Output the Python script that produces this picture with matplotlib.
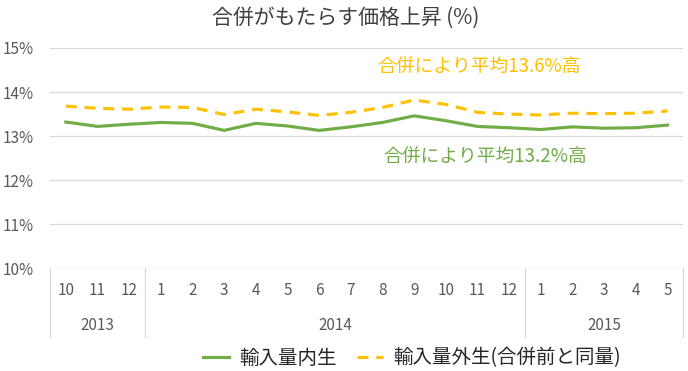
import matplotlib
matplotlib.use("Agg")
import matplotlib.pyplot as plt
import matplotlib.transforms as mtransforms

plt.rcParams['font.family'] = ['Noto Sans CJK JP', 'DejaVu Sans']

months = ['10', '11', '12', '1', '2', '3', '4', '5', '6', '7', '8', '9',
          '10', '11', '12', '1', '2', '3', '4', '5']
years = ['2013', '2014', '2015']
year_spans = [(0, 2), (3, 14), (15, 19)]

endog = [13.32, 13.22, 13.27, 13.31, 13.29, 13.13, 13.29, 13.23, 13.13, 13.21,
         13.31, 13.46, 13.35, 13.22, 13.19, 13.15, 13.21, 13.18, 13.19, 13.25]
exog = [13.68, 13.63, 13.61, 13.66, 13.65, 13.49, 13.61, 13.55, 13.47, 13.54,
        13.65, 13.82, 13.72, 13.54, 13.50, 13.48, 13.52, 13.51, 13.52, 13.57]

label_endog = '輸入量内生'
label_exog = '輸入量外生(合併前と同量)'
note_exog = '合併により平均13.6%高'
note_endog = '合併により平均13.2%高'

green = '#70AD47'
orange = '#FFC000'
grid_c = '#D9D9D9'
tick_c = '#595959'

W, H = 688, 371
fig = plt.figure(figsize=(W / 100, H / 100), dpi=100)
ax = fig.add_axes([50 / W, 1 - 268.3 / H, 633.3 / W, 220.3 / H])

x = list(range(len(months)))
ax.plot(x, endog, color=green, lw=2.25, label=label_endog)
ax.plot(x, exog, color=orange, lw=2.25, dashes=(3.5, 2.5), label=label_exog)

ax.set_xlim(-0.5, len(months) - 0.5)
ax.set_ylim(10, 15)
ax.set_yticks([10, 11, 12, 13, 14, 15])
ax.set_yticklabels(['%d%%' % v for v in range(10, 16)])
ax.tick_params(axis='y', length=0, pad=12, labelsize=11, labelcolor=tick_c)
ax.set_xticks([])
ax.grid(axis='y', color=grid_c, lw=0.9)
ax.set_axisbelow(True)
for s in ax.spines.values():
    s.set_visible(False)

# two-level category axis drawn by hand
trans = mtransforms.blended_transform_factory(ax.transData, ax.transAxes)
for i, m in enumerate(months):
    ax.text(i, -0.103, m, transform=trans, ha='center', va='center',
            fontsize=11, color=tick_c)
for yr, (a, b) in zip(years, year_spans):
    ax.text((a + b) / 2, -0.26, yr, transform=trans, ha='center', va='center',
            fontsize=11, color=tick_c)
for bnd in [-0.5, 2.5, 14.5, len(months) - 0.5]:
    ax.plot([bnd, bnd], [0, -0.31], transform=trans, color=grid_c, lw=0.9,
            clip_on=False)

ax.text(13.05, 14.55, note_exog, ha='center', va='center',
        fontsize=13.5, color=orange)
ax.text(13.24, 12.53, note_endog, ha='center', va='center',
        fontsize=13.5, color=green)

fig.text(346 / W, 1 - 18 / H, '合併がもたらす価格上昇 (%)', ha='center',
         va='center', fontsize=15, color='#404040')

fig.legend(loc='center', bbox_to_anchor=(412 / W, 1 - 358 / H), ncol=2,
           frameon=False, fontsize=14, handlelength=1.35, handletextpad=0.55,
           columnspacing=1.0, labelcolor='#262626')

fig.savefig('out.png', dpi=100)
